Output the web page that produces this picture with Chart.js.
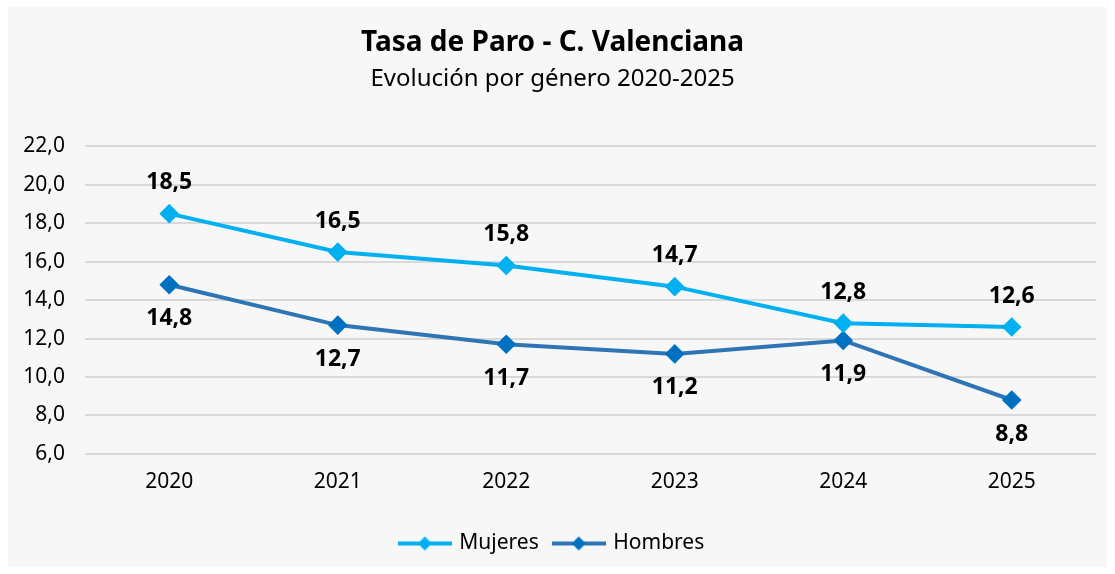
<!DOCTYPE html>
<html>
<head>
<meta charset="utf-8">
<script src="https://cdn.jsdelivr.net/npm/chart.js@4/dist/chart.umd.min.js"></script>
<style>
  html, body { margin: 0; padding: 0; background: #ffffff; }
  #caja {
    position: absolute; left: 8px; top: 7px; width: 1099px; height: 560px;
    background: #f7f7f7;
  }
</style>
</head>
<body>
<div id="caja"><canvas id="grafico" width="1099" height="560"></canvas></div>
<script>
const anios = ['2020', '2021', '2022', '2023', '2024', '2025'];
const mujeres = [18.5, 16.5, 15.8, 14.7, 12.8, 12.6];
const hombres = [14.8, 12.7, 11.7, 11.2, 11.9, 8.8];
const ejeMin = 6;
const ejeMax = 22;
const ejePaso = 2;

const FUENTE = "'Noto Sans', 'Open Sans', sans-serif";
const colorMujeres = '#00b0f0';
const colorHombres = '#2e75b6';
const marcaHombres = '#0070c0';

function fmt(v) {
    return v.toFixed(1).replace('.', ',');
}

// icono de leyenda: linea con rombo
function iconoLeyenda(colorLinea, colorMarca) {
    const c = document.createElement('canvas');
    c.width = 54; c.height = 16;
    const g = c.getContext('2d');
    g.strokeStyle = colorLinea;
    g.lineWidth = 4;
    g.beginPath(); g.moveTo(0, 8); g.lineTo(54, 8); g.stroke();
    g.fillStyle = colorMarca;
    g.beginPath(); g.moveTo(27, 1); g.lineTo(34, 8); g.lineTo(27, 15); g.lineTo(20, 8); g.closePath(); g.fill();
    return c;
}

// etiquetas de datos
const etiquetas = {
    id: 'etiquetas',
    afterDatasetsDraw(chart) {
        const ctx = chart.ctx;
        ctx.save();
        ctx.font = "bold 23px " + FUENTE;
        ctx.fillStyle = '#000000';
        ctx.textAlign = 'center';
        ctx.textBaseline = 'middle';
        chart.data.datasets.forEach((ds, i) => {
            const meta = chart.getDatasetMeta(i);
            meta.data.forEach((p, j) => {
                const dy = i === 0 ? -31 : 34;
                ctx.fillText(fmt(ds.data[j]), p.x, p.y + dy);
            });
        });
        ctx.restore();
    }
};

new Chart(document.getElementById('grafico'), {
    type: 'line',
    data: {
        labels: anios,
        datasets: [{
            label: 'Mujeres',
            data: mujeres,
            borderColor: colorMujeres,
            backgroundColor: colorMujeres,
            pointBackgroundColor: colorMujeres,
            pointBorderColor: colorMujeres,
            borderWidth: 4,
            pointStyle: 'rectRot',
            pointRadius: 7,
            tension: 0
        }, {
            label: 'Hombres',
            data: hombres,
            borderColor: colorHombres,
            backgroundColor: marcaHombres,
            pointBackgroundColor: marcaHombres,
            pointBorderColor: marcaHombres,
            borderWidth: 4,
            pointStyle: 'rectRot',
            pointRadius: 7,
            tension: 0
        }]
    },
    options: {
        responsive: false,
        animation: false,
        layout: { padding: { left: 0, right: 10, top: 0, bottom: 3 } },
        plugins: {
            title: {
                display: true,
                text: 'Tasa de Paro - C. Valenciana',
                color: '#000000',
                font: { family: FUENTE, size: 28, weight: 'bold' },
                padding: { top: 19, bottom: 5 }
            },
            subtitle: {
                display: true,
                text: 'Evolución por género 2020-2025',
                color: '#000000',
                font: { family: FUENTE, size: 24 },
                padding: { top: 0, bottom: 53 }
            },
            legend: {
                position: 'bottom',
                labels: {
                    usePointStyle: true,
                    pointStyleWidth: 48,
                    color: '#000000',
                    font: { family: FUENTE, size: 21 },
                    padding: 16,
                    generateLabels(chart) {
                        return chart.data.datasets.map((ds, i) => ({
                            text: ds.label,
                            pointStyle: iconoLeyenda(ds.borderColor, ds.pointBackgroundColor),
                            fontColor: '#000000',
                            hidden: false,
                            datasetIndex: i,
                            lineWidth: 0
                        }));
                    }
                }
            },
            tooltip: { enabled: false }
        },
        scales: {
            x: {
                offset: true,
                afterFit(scale) { scale.height += 14; },
                grid: { display: false },
                border: { display: false },
                ticks: { color: '#000000', font: { family: FUENTE, size: 21 }, padding: 8 }
            },
            y: {
                min: ejeMin,
                max: ejeMax,
                afterFit(scale) { scale.width = 77; },
                ticks: {
                    stepSize: ejePaso,
                    color: '#000000',
                    font: { family: FUENTE, size: 21 },
                    padding: 20,
                    callback: v => fmt(v)
                },
                grid: { color: '#d9d9d9', lineWidth: 2, drawTicks: false },
                border: { display: false }
            }
        }
    },
    plugins: [etiquetas]
});
</script>
</body>
</html>
